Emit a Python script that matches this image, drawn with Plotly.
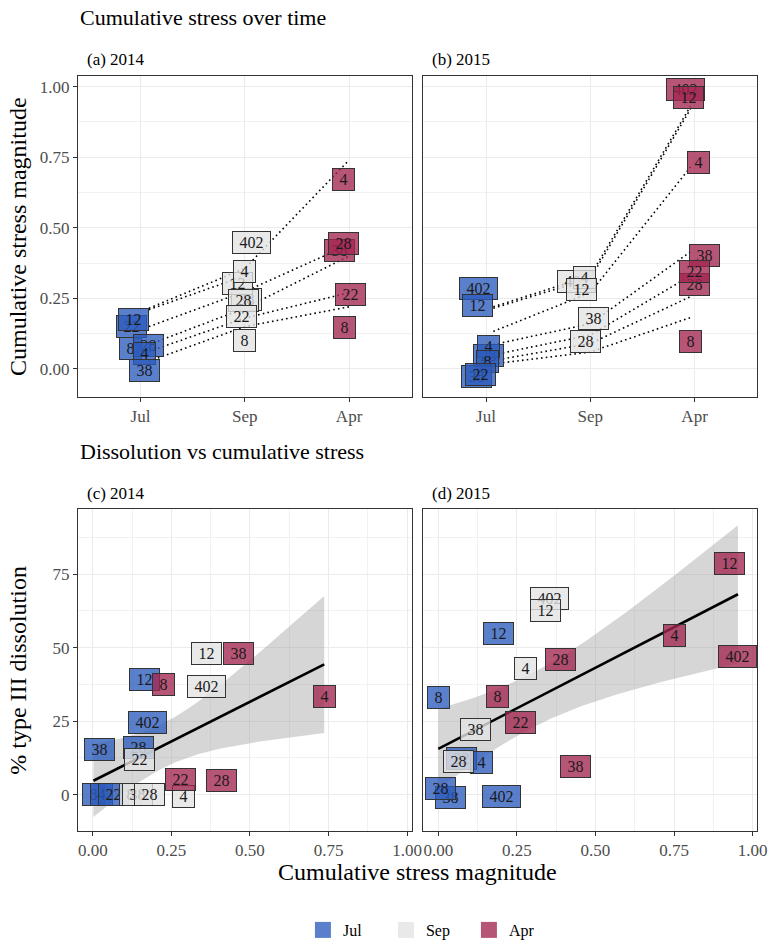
import math
import numpy as np
import plotly.graph_objects as go

W, H = 777, 947
FONT = "Liberation Serif"

MONTHS = ["Jul", "Sep", "Apr"]
MONTH_POS = {"Jul": 1, "Sep": 2, "Apr": 3}
FILL = {"Jul": "rgba(43,91,189,0.78)", "Sep": "rgba(228,228,228,0.80)", "Apr": "rgba(163,37,81,0.78)"}

# ---------------- Panel (a) 2014 : cumulative stress labels (jittered) -------------
a_site = ["22", "12", "8", "28", "4", "38",
          "38", "12", "4", "402", "28", "22", "8",
          "4", "38", "28", "22", "8"]
a_month = ["Jul"] * 6 + ["Sep"] * 7 + ["Apr"] * 5
a_jitter = [-0.09, -0.07, -0.10, 0.08, 0.04, 0.04,
            0.02, -0.07, 0.0, 0.065, -0.01, -0.03, 0.0,
            -0.05, -0.09, -0.05, 0.01, -0.045]
a_value = [0.15, 0.175, 0.074, 0.082, 0.056, -0.005,
           0.245, 0.303, 0.345, 0.448, 0.243, 0.187, 0.102,
           0.67, 0.42, 0.443, 0.262, 0.147]

# ---------------- Panel (b) 2015 ----------------
b_site = ["402", "12", "28", "4", "8", "38", "22",
          "402", "4", "12", "38", "28",
          "402", "12", "4", "38", "28", "22", "8"]
b_month = ["Jul"] * 7 + ["Sep"] * 5 + ["Apr"] * 7
b_jitter = [-0.07, -0.08, 0.02, 0.02, 0.015, -0.09, -0.05,
            -0.13, -0.06, -0.08, 0.03, -0.05,
            -0.09, -0.06, 0.04, 0.10, 0.0, 0.0, -0.04]
b_value = [0.285, 0.225, 0.046, 0.08, 0.028, -0.026, -0.021,
           0.31, 0.325, 0.282, 0.18, 0.097,
           0.99, 0.961, 0.732, 0.403, 0.30, 0.344, 0.098]

# ---------------- dotted trajectories (per site: Jul, Sep, Apr) ----------------
l14_site = ["4", "12", "28", "38", "22", "8"]
l14_jul = [0.215, 0.21, 0.15, 0.086, 0.062, 0.027]
l14_sep = [0.356, 0.33, 0.274, 0.215, 0.18, 0.15]
l14_apr = [0.74, None, 0.44, 0.40, 0.27, 0.22]
l14_x = [1.08, 2.0, 3.0]

l15_site = ["402", "12", "4", "38", "22", "28", "8"]
l15_jul = [0.22, 0.215, 0.133, 0.086, 0.05, 0.03, 0.018]
l15_sep = [0.33, 0.32, 0.27, 0.16, 0.12, 0.09, 0.06]
l15_apr = [0.93, 0.92, 0.715, 0.415, 0.33, 0.256, 0.182]
l15_x = [1.07, 2.0, 2.96]

# ---------------- Panel (c) 2014 : dissolution vs cumulative stress ----------------
c_site = ["8", "4", "22", "38", "28", "402", "12",
          "22", "8", "38", "28", "4", "402", "12",
          "38", "8", "4", "22", "28"]
c_month = ["Jul"] * 7 + ["Sep"] * 7 + ["Apr"] * 5
c_x = [0.002, 0.028, 0.065, 0.023, 0.145, 0.174, 0.166,
       0.148, 0.12, 0.142, 0.18, 0.29, 0.361, 0.361,
       0.464, 0.224, 0.736, 0.278, 0.408]
c_y = [0.0, 0.0, 0.0, 15.2, 16.0, 24.7, 39.1,
       12.1, 0.0, 0.0, 0.0, -0.5, 36.8, 48.1,
       48.1, 37.4, 33.5, 5.2, 4.8]

# ---------------- Panel (d) 2015 ----------------
d_site = ["12", "8", "22", "4", "38", "28", "402",
          "402", "12", "4", "38", "28",
          "12", "4", "402", "28", "8", "22", "38"]
d_month = ["Jul"] * 7 + ["Sep"] * 5 + ["Apr"] * 7
d_x = [0.193, 0.0, 0.073, 0.1375, 0.04, 0.006, 0.2,
       0.354, 0.342, 0.279, 0.118, 0.065,
       0.927, 0.75, 0.953, 0.39, 0.1875, 0.26, 0.435]
d_y = [54.8, 32.9, 12.3, 11.0, -0.8, 2.0, -0.5,
       66.6, 62.6, 43.0, 22.0, 11.3,
       78.6, 54.2, 46.9, 46.0, 33.5, 24.7, 9.7]


def t_quantile(p, df):
    c = math.gamma((df + 1) / 2) / (math.sqrt(df * math.pi) * math.gamma(df / 2))

    def cdf(t):
        g = np.linspace(0, t, 4001)
        f = c * (1 + g ** 2 / df) ** (-(df + 1) / 2)
        return 0.5 + np.trapezoid(f, g)

    lo, hi = 0.0, 10.0
    for _ in range(60):
        mid = (lo + hi) / 2
        if cdf(mid) < p:
            lo = mid
        else:
            hi = mid
    return (lo + hi) / 2


def lm_band(x, y, npts=80, level=0.95):
    x = np.asarray(x, float)
    y = np.asarray(y, float)
    n = len(x)
    slope, intercept = np.polyfit(x, y, 1)
    xg = np.linspace(x.min(), x.max(), npts)
    fit = intercept + slope * xg
    resid = y - (intercept + slope * x)
    s = np.sqrt(np.sum(resid ** 2) / (n - 2))
    sxx = np.sum((x - x.mean()) ** 2)
    se = s * np.sqrt(1 / n + (xg - x.mean()) ** 2 / sxx)
    t = t_quantile(0.5 + level / 2, n - 2)
    return xg, fit, fit - t * se, fit + t * se


fig = go.Figure()
annotations = []

LABEL_FONT = dict(family=FONT, size=16, color="#1a1a1a")


def add_labels(sites, months, xs, ys, xref, yref):
    for s, m, xv, yv in zip(sites, months, xs, ys):
        annotations.append(dict(
            x=xv, y=yv, xref=xref, yref=yref, text=s, showarrow=False,
            font=LABEL_FONT, bgcolor=FILL[m], bordercolor="#333333",
            borderwidth=1, borderpad=0, width=13 + 8 * len(s), height=21,
            align="center", valign="middle"))


# dotted trajectories
def add_lines(jul, sep, apr, xpos, xa, ya):
    for j, s, a in zip(jul, sep, apr):
        fig.add_trace(go.Scatter(
            x=xpos, y=[j, s, a], mode="lines", xaxis=xa, yaxis=ya,
            line=dict(color="black", width=1.6, dash="1.6px,3.2px"),
            showlegend=False, hoverinfo="skip"))


add_lines(l14_jul, l14_sep, l14_apr, l14_x, "x", "y")
add_lines(l15_jul, l15_sep, l15_apr, l15_x, "x2", "y2")

add_labels(a_site, a_month, [MONTH_POS[m] + j for m, j in zip(a_month, a_jitter)], a_value, "x", "y")
add_labels(b_site, b_month, [MONTH_POS[m] + j for m, j in zip(b_month, b_jitter)], b_value, "x2", "y2")

# regression + ribbon
for xs, ys, xa, ya in [(c_x, c_y, "x3", "y3"), (d_x, d_y, "x4", "y4")]:
    xg, fit, lo, hi = lm_band(xs, ys)
    fig.add_trace(go.Scatter(
        x=np.concatenate([xg, xg[::-1]]), y=np.concatenate([hi, lo[::-1]]),
        fill="toself", fillcolor="rgba(153,153,153,0.4)", line=dict(width=0),
        mode="lines", xaxis=xa, yaxis=ya, showlegend=False, hoverinfo="skip"))
    fig.add_trace(go.Scatter(
        x=xg, y=fit, mode="lines", line=dict(color="black", width=2.6),
        xaxis=xa, yaxis=ya, showlegend=False, hoverinfo="skip"))

add_labels(c_site, c_month, c_x, c_y, "x3", "y3")
add_labels(d_site, d_month, d_x, d_y, "x4", "y4")

# legend entries
for m in MONTHS:
    fig.add_trace(go.Scatter(
        x=[None], y=[None], mode="markers", name=m,
        marker=dict(symbol="square", size=17, color=FILL[m], line=dict(width=0)),
        showlegend=True))

# titles
def txt(text, x, y, size, xanchor="left", angle=0, color="black"):
    annotations.append(dict(
        text=text, x=x / W, y=1 - y / H, xref="paper", yref="paper",
        xanchor=xanchor, yanchor="middle", showarrow=False, textangle=angle,
        font=dict(family=FONT, size=size, color=color)))


txt("Cumulative stress over time", 79, 18, 22)
txt("(a) 2014", 86, 60, 17)
txt("(b) 2015", 436, 60, 17)
txt("Dissolution vs cumulative stress", 79, 454, 22)
txt("(c) 2014", 86, 496, 17)
txt("(d) 2015", 436, 496, 17)
txt("Cumulative stress magnitude", 18, 237.5, 24, xanchor="center", angle=-90)
txt("% type III dissolution", 18, 673.5, 24, xanchor="center", angle=-90)
txt("Cumulative stress magnitude", 423, 877, 24, xanchor="center")

LEFT = [79 / W, 417 / W]
RIGHT = [429 / W, 767 / W]
TOP = [1 - 399 / H, 1 - 76 / H]
BOT = [1 - 835 / H, 1 - 512 / H]

common = dict(showline=True, linecolor="#333333", linewidth=1, mirror=True,
              ticks="outside", ticklen=4, tickcolor="#333333", tickwidth=1,
              gridcolor="#ebebeb", gridwidth=1, zeroline=False,
              tickfont=dict(family=FONT, size=17, color="#4d4d4d"))

month_x = dict(common, tickmode="array", tickvals=[1, 2, 3], ticktext=MONTHS, range=[0.4, 3.6])
stress_y = dict(common, tickmode="array", tickvals=[0, 0.25, 0.5, 0.75, 1.0],
                ticktext=["0.00", "0.25", "0.50", "0.75", "1.00"], range=[-0.099, 1.039],
                minor=dict(tickmode="linear", tick0=0, dtick=0.125, showgrid=True,
                           gridcolor="#f1f1f1", gridwidth=0.7, ticks=""))
mag_x = dict(common, tickmode="array", tickvals=[0, 0.25, 0.5, 0.75, 1.0],
             ticktext=["0.00", "0.25", "0.50", "0.75", "1.00"], range=[-0.047, 1.014],
             minor=dict(tickmode="linear", tick0=0, dtick=0.125, showgrid=True,
                        gridcolor="#f1f1f1", gridwidth=0.7, ticks=""))
diss_y = dict(common, tickmode="array", tickvals=[0, 25, 50, 75], range=[-12.2, 97.0],
              minor=dict(tickmode="linear", tick0=0, dtick=12.5, showgrid=True,
                         gridcolor="#f1f1f1", gridwidth=0.7, ticks=""))

fig.update_layout(
    width=W, height=H, margin=dict(l=0, r=0, t=0, b=0),
    paper_bgcolor="white", plot_bgcolor="white",
    font=dict(family=FONT, color="black"),
    xaxis=dict(month_x, domain=LEFT, anchor="y"),
    yaxis=dict(stress_y, domain=TOP, anchor="x"),
    xaxis2=dict(month_x, domain=RIGHT, anchor="y2"),
    yaxis2=dict(stress_y, domain=TOP, anchor="x2", showticklabels=False, ticks=""),
    xaxis3=dict(mag_x, domain=LEFT, anchor="y3"),
    yaxis3=dict(diss_y, domain=BOT, anchor="x3"),
    xaxis4=dict(mag_x, domain=RIGHT, anchor="y4"),
    yaxis4=dict(diss_y, domain=BOT, anchor="x4", showticklabels=False, ticks=""),
    annotations=annotations,
    showlegend=True,
    legend=dict(orientation="h", x=433 / W, xanchor="center", y=12 / H, yanchor="middle",
                font=dict(family=FONT, size=16, color="black"), bgcolor="rgba(0,0,0,0)",
                itemsizing="trace", entrywidth=38, entrywidthmode="pixels"),
)

fig.write_html("out.html")
